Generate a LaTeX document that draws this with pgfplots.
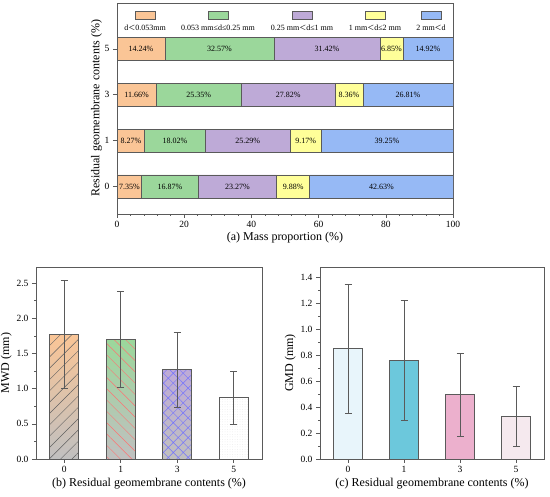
\documentclass[border=0pt]{standalone}
\usepackage{pgfplots}
\pgfplotsset{compat=1.18}
\usepackage{fontspec}
\setmainfont{Liberation Serif}
\newfontfamily\cjk{Noto Sans CJK SC}
\usetikzlibrary{patterns.meta}
\definecolor{cOr}{RGB}{250,197,150}
\definecolor{cGr}{RGB}{155,215,155}
\definecolor{cPu}{RGB}{190,170,215}
\definecolor{cYe}{RGB}{255,255,153}
\definecolor{cBl}{RGB}{150,185,245}
\definecolor{cEdge}{RGB}{90,90,90}
\definecolor{cGrayB}{RGB}{192,192,192}
\definecolor{cC0}{RGB}{232,245,251}
\definecolor{cC1}{RGB}{108,200,220}
\definecolor{cC3}{RGB}{236,176,205}
\definecolor{cC5}{RGB}{245,233,238}
\newcommand{\lt}{{\cjk\fontsize{7}{8}\selectfont ＜}}
\pgfplotsset{
  every axis/.append style={
    scale only axis,
    /pgf/number format/assume math mode=true,
    tick label style={font=\fontsize{9.5}{11}\selectfont},
    label style={font=\fontsize{12}{14}\selectfont},
    tick align=outside,
    xtick pos=bottom, ytick pos=left,
    major tick length=4pt, minor tick length=2pt,
    axis line style={cEdge, line width=0.7pt},
    every tick/.style={cEdge, line width=0.6pt},
  },
  errstyle/.style={draw=cEdge, line width=0.6pt,
    error bars/y dir=both, error bars/y explicit,
    error bars/error bar style={draw=cEdge, line width=0.6pt},
    error bars/error mark options={draw=cEdge, line width=0.6pt, mark size=3.5pt, rotate=90}},
}
\pgfplotstableread{
y  a     b     c     d     e
0  7.35  16.87 23.27 9.88  42.63
1  8.27  18.02 25.29 9.17  39.25
2  11.66 25.35 27.82 8.36  26.81
3  14.24 32.57 31.42 6.85  14.92
}\massdata
\pgfplotstableread{
x       y  lab
3.675   0  7.35\%
15.785  0  16.87\%
35.855  0  23.27\%
52.43   0  9.88\%
78.685  0  42.63\%
4.135   1  8.27\%
17.28   1  18.02\%
38.935  1  25.29\%
56.165  1  9.17\%
80.375  1  39.25\%
5.83    2  11.66\%
24.335  2  25.35\%
50.92   2  27.82\%
69.01   2  8.36\%
86.595  2  26.81\%
7.12    3  14.24\%
30.525  3  32.57\%
62.52   3  31.42\%
81.655  3  6.85\%
92.54   3  14.92\%
}\masslabels
\begin{document}
\begin{tikzpicture}[x=1pt,y=1pt]
\path[use as bounding box] (0,0) rectangle (550,497);
% ---------- (a)
\begin{axis}[
  at={(117pt,283pt)}, anchor=south west,
  width=336pt, height=211pt,
  xbar stacked, bar width=23pt,
  xmin=0, xmax=100, ymin=-0.6, ymax=4,
  xtick={0,20,40,60,80,100}, minor x tick num=4,
  ytick={0,1,2,3}, yticklabels={0,1,3,5},
  xlabel={(a) Mass proportion (\%)},
  ylabel={Residual geomembrane contents (\%)},
  xlabel style={yshift=3pt},
  ylabel style={yshift=-4pt},
  every axis plot/.append style={draw=cEdge, line width=0.6pt},
]
\addplot[fill=cOr] table[x=a,y=y] {\massdata};
\addplot[fill=cGr] table[x=b,y=y] {\massdata};
\addplot[fill=cPu] table[x=c,y=y] {\massdata};
\addplot[fill=cYe] table[x=d,y=y] {\massdata};
\addplot[fill=cBl] table[x=e,y=y] {\massdata};
\end{axis}
\begin{axis}[
  at={(117pt,283pt)}, anchor=south west,
  width=336pt, height=211pt, hide axis,
  xmin=0, xmax=100, ymin=-0.6, ymax=4,
]
\addplot[only marks, mark=none, nodes near coords, point meta=explicit symbolic,
  every node near coord/.style={anchor=center, inner sep=0pt, font=\fontsize{8}{9}\selectfont}]
  table[x=x,y=y,meta=lab] {\masslabels};
\end{axis}
% legend
\draw[cEdge, line width=0.6pt, fill=white] (117,494) rectangle (453,460);
\foreach \cx/\col/\txt in {145/cOr/{d\lt0.053mm},
  218/cGr/{0.053 mm≤d≤0.25 mm},
  302/cPu/{0.25 mm\lt d≤1 mm},
  375/cYe/{1 mm\lt d≤2 mm},
  431/cBl/{2 mm\lt d}}{
  \draw[cEdge, line width=0.5pt, fill=\col] (\cx-10,478) rectangle (\cx+10,486);
  \node[font=\fontsize{8}{9}\selectfont, inner sep=0pt] at (\cx,469.5) {\txt};
}
% ---------- (b)
\begin{axis}[
  at={(36pt,38pt)}, anchor=south west,
  width=226pt, height=192pt,
  ybar, bar width=29pt, bar shift=0pt,
  xmin=-0.5, xmax=3.5, ymin=0, ymax=2.73,
  xtick={0,1,2,3}, xticklabels={0,1,3,5},
  ytick={0,0.5,1,1.5,2,2.5}, minor y tick num=1,
  yticklabel style={/pgf/number format/.cd, fixed, fixed zerofill, precision=1},
  xlabel={(b) Residual geomembrane contents (\%)},
  ylabel={MWD (mm)},
  xlabel style={yshift=2pt},
  ylabel style={yshift=-2pt},
]
% shaded bars
\addplot[draw=cEdge, line width=0.6pt, top color=cOr, bottom color=cGrayB] coordinates {(0,1.77)};
\addplot[draw=cEdge, line width=0.6pt, top color=cGr, bottom color=cGrayB] coordinates {(1,1.70)};
\addplot[draw=cEdge, line width=0.6pt, top color=cPu, bottom color=cGrayB] coordinates {(2,1.27)};
\addplot[draw=cEdge, line width=0.6pt, fill=white] coordinates {(3,0.875)};
% hatching over the bars, with error bars
\addplot[errstyle, fill=none, pattern={Lines[angle=45,distance=8pt,line width=0.45pt]}, pattern color=gray!75!black]
  coordinates {(0,1.77) +- (0,0.77)};
\addplot[errstyle, fill=none, pattern={Lines[angle=-45,distance=8pt,line width=0.45pt]}, pattern color=red!55]
  coordinates {(1,1.70) +- (0,0.68)};
\addplot[errstyle, fill=none, pattern={Hatch[angle=45,distance=7pt,line width=0.45pt]}, pattern color=blue!55]
  coordinates {(2,1.27) +- (0,0.535)};
\addplot[errstyle, fill=none, pattern={Dots[distance=2.5pt,radius=0.25pt]}, pattern color=gray!40]
  coordinates {(3,0.875) +- (0,0.375)};
\end{axis}
% ---------- (c)
\begin{axis}[
  at={(320pt,38pt)}, anchor=south west,
  width=224pt, height=192pt,
  ybar, bar width=29pt, bar shift=0pt,
  xmin=-0.5, xmax=3.5, ymin=0, ymax=1.48,
  xtick={0,1,2,3}, xticklabels={0,1,3,5},
  ytick={0,0.2,0.4,0.6,0.8,1.0,1.2,1.4}, minor y tick num=1,
  yticklabel style={/pgf/number format/.cd, fixed, fixed zerofill, precision=1},
  xlabel={(c) Residual geomembrane contents (\%)},
  ylabel={GMD (mm)},
  xlabel style={yshift=2pt},
  ylabel style={yshift=-2pt},
]
\addplot[errstyle, fill=cC0] coordinates {(0,0.85) +- (0,0.50)};
\addplot[errstyle, fill=cC1] coordinates {(1,0.76) +- (0,0.46)};
\addplot[errstyle, fill=cC3] coordinates {(2,0.495) +- (0,0.32)};
\addplot[errstyle, fill=cC5] coordinates {(3,0.33) +- (0,0.23)};
\end{axis}
\end{tikzpicture}
\end{document}
